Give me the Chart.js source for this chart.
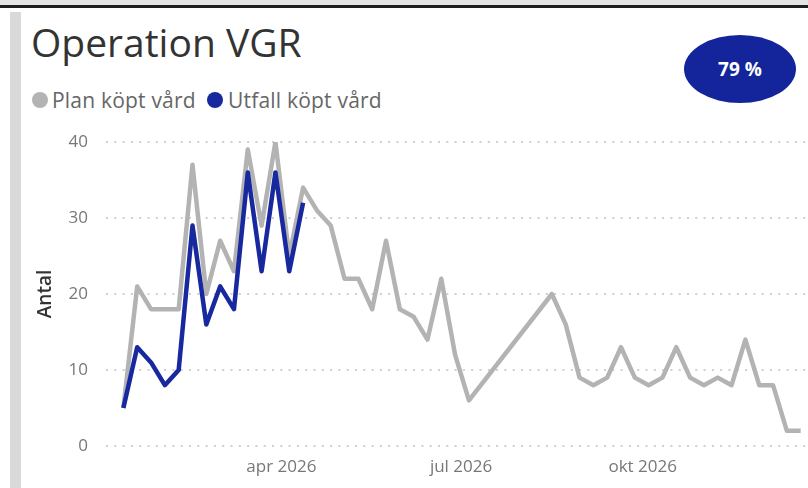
<!DOCTYPE html>
<html>
<head>
<meta charset="utf-8">
<script src="https://cdn.jsdelivr.net/npm/chart.js@4"></script>
<style>
  html, body { margin: 0; padding: 0; background: #fff; }
  body { width: 808px; height: 488px; position: relative; overflow: hidden; font-family: "Open Sans", sans-serif; }
  .topbar { position: absolute; left: 0; top: 0; width: 808px; height: 5px; background: #e4e4e4; }
  .topline { position: absolute; left: 0; top: 5px; width: 808px; height: 3px; background: #1f1f1f; }
  .sidebar { position: absolute; left: 10px; top: 12px; width: 11px; height: 476px; background: #d9d9d9; }
  .title { position: absolute; left: 31px; top: 22px; margin: 0; font-size: 39px; line-height: 39px; font-weight: 400; color: #333; white-space: nowrap; }
  .dot { position: absolute; top: 92px; width: 16px; height: 16px; border-radius: 50%; }
  .lg { position: absolute; top: 90px; font-size: 21px; line-height: 21px; letter-spacing: 0.2px; color: #666; white-space: nowrap; }
  .badge { position: absolute; left: 684px; top: 35px; width: 112px; height: 68px; border-radius: 50%; background: #14249b;
           color: #fff; font-weight: 700; font-size: 19px; display: flex; align-items: center; justify-content: center; }
  #wrap { position: absolute; left: 22px; top: 120px; width: 786px; height: 368px; }
</style>
</head>
<body>
<div class="topbar"></div>
<div class="topline"></div>
<div class="sidebar"></div>
<div class="title">Operation VGR</div>
<div class="dot" style="left:32px;background:#b3b3b3"></div>
<div class="lg" style="left:52px">Plan köpt vård</div>
<div class="dot" style="left:207px;background:#18289e"></div>
<div class="lg" style="left:228px">Utfall köpt vård</div>
<div class="badge">79 %</div>
<div id="wrap"><canvas id="chart"></canvas></div>

<script>
// week ending dates (Sundays); weeks 27-31 have no plan value
const weekEnding = [
  "2026-01-11", "2026-01-18", "2026-01-25", "2026-02-01", "2026-02-08", "2026-02-15", "2026-02-22",
  "2026-03-01", "2026-03-08", "2026-03-15", "2026-03-22", "2026-03-29", "2026-04-05", "2026-04-12",
  "2026-04-19", "2026-04-26", "2026-05-03", "2026-05-10", "2026-05-17", "2026-05-24", "2026-05-31",
  "2026-06-07", "2026-06-14", "2026-06-21", "2026-06-28", "2026-07-05", "2026-07-12", "2026-07-19",
  "2026-07-26", "2026-08-02", "2026-08-09", "2026-08-16", "2026-08-23", "2026-08-30", "2026-09-06",
  "2026-09-13", "2026-09-20", "2026-09-27", "2026-10-04", "2026-10-11", "2026-10-18", "2026-10-25",
  "2026-11-01", "2026-11-08", "2026-11-15", "2026-11-22", "2026-11-29", "2026-12-06", "2026-12-13",
  "2026-12-20"
];
const planValues = [
  5, 21, 18, 18, 18, 37, 20, 27, 23, 39, 29, 40, 25, 34, 31, 29, 22, 22, 18, 27,
  18, 17, 14, 22, 12, 6, null, null, null, null, null, 20, 16, 9, 8, 9, 13, 9, 8, 9,
  13, 9, 8, 9, 8, 14, 8, 8, 2, 2
];
const utfallValues = [5, 13, 11, 8, 10, 29, 16, 21, 18, 36, 23, 36, 23, 32];

const monthTicks = ["2026-04-01", "2026-07-01", "2026-10-01"];
const monthTickLabels = ["apr 2026", "jul 2026", "okt 2026"];
const yTicks = [0, 10, 20, 30, 40];

const dayOf = (s) => (Date.parse(s) - Date.parse("2026-01-01")) / 86400000;
const toPoints = (values) => weekEnding
  .map((d, i) => ({ x: dayOf(d), y: values[i] ?? null }))
  .filter((p, i) => i < values.length);

new Chart(document.getElementById("chart"), {
  type: "line",
  data: {
    datasets: [
      {
        label: "Utfall köpt vård",
        data: toPoints(utfallValues),
        borderColor: "#18289e",
        borderWidth: 4.5,
        borderJoinStyle: "round",
        pointRadius: 0,
        tension: 0,
        order: 0
      },
      {
        label: "Plan köpt vård",
        data: toPoints(planValues),
        borderColor: "#b3b3b3",
        borderWidth: 4.5,
        borderJoinStyle: "round",
        pointRadius: 0,
        tension: 0,
        spanGaps: true,
        order: 1
      }
    ]
  },
  options: {
    responsive: true,
    maintainAspectRatio: false,
    animation: false,
    layout: { padding: { top: 22, left: 0, right: 0, bottom: 0 } },
    plugins: { legend: { display: false }, tooltip: { enabled: false } },
    scales: {
      x: {
        type: "linear",
        min: 1.2,
        max: 356.7,
        grid: { display: false, drawTicks: false },
        border: { display: false },
        afterBuildTicks: (scale) => { scale.ticks = monthTicks.map((d) => ({ value: dayOf(d) })); },
        afterFit: (scale) => { scale.height = 42; },
        ticks: {
          autoSkip: false,
          maxRotation: 0,
          padding: 11,
          color: "#777",
          font: { family: "Open Sans", size: 17 },
          callback: (v, i) => monthTickLabels[i]
        }
      },
      y: {
        min: 0,
        max: 40,
        afterBuildTicks: (scale) => { scale.ticks = yTicks.map((v) => ({ value: v })); },
        afterFit: (scale) => { scale.width = 84; },
        grid: { color: "#cfcfcf", lineWidth: 2, drawTicks: true, tickLength: 15, tickColor: "rgba(0,0,0,0)" },
        border: { display: false, dash: [2, 6.3] },
        ticks: { padding: 3, color: "#777", font: { family: "Open Sans", size: 17 } },
        title: {
          display: true,
          text: "Antal",
          color: "#333",
          padding: { top: 12, bottom: 0 },
          font: { family: "Open Sans", size: 19, weight: "600" }
        }
      }
    }
  }
});
</script>
</body>
</html>
